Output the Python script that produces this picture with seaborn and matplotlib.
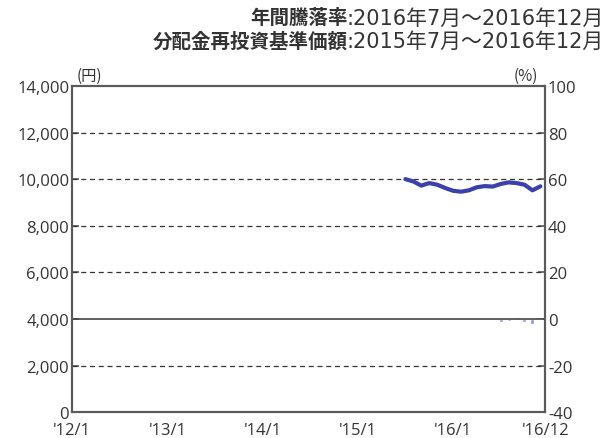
import matplotlib
matplotlib.use("Agg")
import matplotlib.pyplot as plt
import seaborn as sns
import numpy as np
import pandas as pd

# ---- data ----
line_months = list(range(42, 60))  # month index from 2012/1 (2015/7 .. 2016/12)
nav_values = [10000, 9900, 9720, 9830, 9760, 9620, 9500, 9460, 9520,
              9650, 9700, 9680, 9790, 9860, 9830, 9760, 9520, 9690]
bar_months = [54, 55, 56, 57, 58, 59]  # 2016/7 .. 2016/12
ret_values = [-1.5, -0.8, 0.8, -1.2, -2.2, -0.6]
xtick_pos = [0, 12, 24, 36, 48, 59.6]
xtick_labels = ["'12/1", "'13/1", "'14/1", "'15/1", "'16/1", "'16/12"]
left_ticks = list(range(0, 14001, 2000))
right_ticks = list(range(-40, 101, 20))
title_labels = ["年間騰落率", "分配金再投資基準価額"]
title_periods = [":2016年7月～2016年12月", ":2015年7月～2016年12月"]

sns.set_theme(style="white")
plt.rcParams['font.family'] = ['Open Sans', 'Noto Sans CJK JP', 'DejaVu Sans']

fig = plt.figure(figsize=(6.05, 4.39), dpi=100)
ax = fig.add_axes([0.119, 0.059, 0.782, 0.743])
ax2 = ax.twinx()

gray = "#5a5a5a"
# grid lines
for v in left_ticks[1:-1]:
    if v == 4000:
        ax.axhline(v, color="#444444", lw=1.2, zorder=1)
    else:
        ax.axhline(v, color="#333333", lw=0.9, ls=(0, (4, 3)), zorder=1)

df_line = pd.DataFrame({"m": line_months, "nav": nav_values})
sns.lineplot(data=df_line, x="m", y="nav", ax=ax, color="#3b41aa", lw=3.0, zorder=3)

df_bar = pd.DataFrame({"m": bar_months, "r": ret_values})
sns.barplot(data=df_bar, x="m", y="r", ax=ax2, native_scale=True, width=0.5,
            color="#8a95e0", saturation=1, zorder=2)

ax.set_xlim(0, 59.6)
ax.set_ylim(0, 14000)
ax2.set_ylim(-40, 100)
ax.set_yticks(left_ticks)
ax.set_yticklabels([f"{v:,}" for v in left_ticks])
ax2.set_yticks(right_ticks)
ax2.set_yticklabels([str(v) for v in right_ticks])
ax.set_xticks(xtick_pos)
ax.set_xticklabels(xtick_labels)
ax.set_xlabel("")
ax.set_ylabel("")
ax2.set_xlabel("")
ax2.set_ylabel("")

for a in (ax, ax2):
    for s in a.spines.values():
        s.set_color(gray)
        s.set_linewidth(1.5)
        s.set_visible(True)
ax.tick_params(axis="y", direction="in", length=5, width=1.2, color=gray,
               labelsize=12, labelcolor="#333333", pad=2)
ax.tick_params(axis="x", direction="in", length=5, width=1.2, color=gray,
               labelsize=12, labelcolor="#333333", pad=7)
ax2.tick_params(axis="y", direction="in", length=5, width=1.2, color=gray,
                labelsize=12, labelcolor="#333333", pad=2)
ax.set_zorder(ax2.get_zorder() + 1)
ax.patch.set_visible(False)

ax.text(0.01, 1.005, "(円)", transform=ax.transAxes, ha="left", va="bottom",
        fontsize=11, color="#333333", family=['Noto Sans CJK JP', 'DejaVu Sans'])
ax2.text(0.985, 1.005, "(%)", transform=ax2.transAxes, ha="right", va="bottom",
         fontsize=11, color="#333333", family=['Noto Sans CJK JP', 'DejaVu Sans'])

# title lines: period part (regular) right-aligned, label part (bold) just left of it
fig.canvas.draw()
renderer = fig.canvas.get_renderer()
W = fig.bbox.width
for lab, per, yc in zip(title_labels, title_periods, [0.958, 0.905]):
    tp = fig.text(0.998, yc, per, ha="right", va="center", fontsize=15,
                  color="#333333", family=['DejaVu Sans', 'Noto Sans CJK JP'])
    bb = tp.get_window_extent(renderer=renderer)
    fig.text((bb.x0 + 1) / W, yc, lab, ha="right", va="center", fontsize=14,
             color="#333333", fontweight="bold",
             family=['Noto Sans CJK JP', 'DejaVu Sans'])

fig.savefig("out.png", dpi=100)
